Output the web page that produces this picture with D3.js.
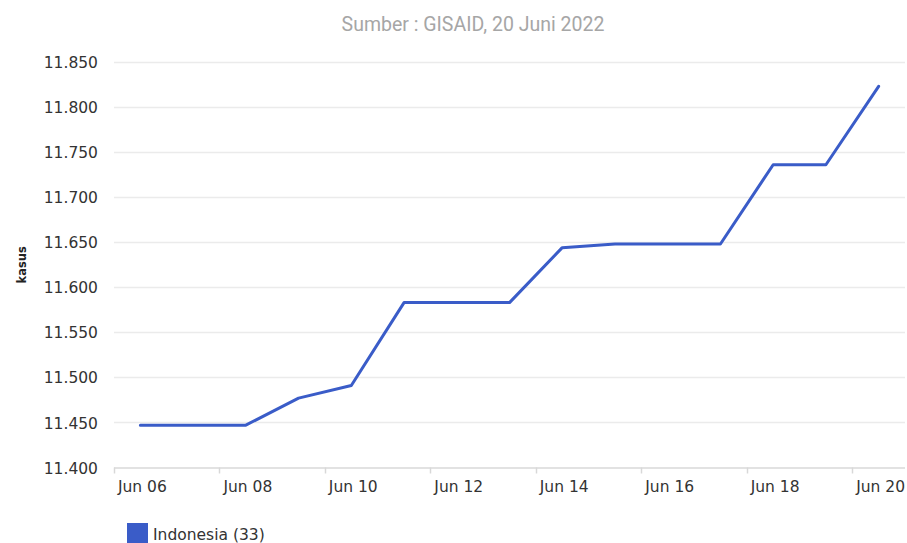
<!DOCTYPE html>
<html>
<head>
<meta charset="utf-8">
<script src="https://cdn.jsdelivr.net/npm/d3@7"></script>
<style>
  html, body { margin: 0; padding: 0; background: #fff; }
  svg { display: block; }
</style>
</head>
<body>
<svg id="chart" width="907" height="543"></svg>
<script>
const titleText = "Sumber : GISAID, 20 Juni 2022";
const yAxisTitle = "kasus";
const seriesName = "Indonesia (33)";
const categories = ["Jun 06","Jun 07","Jun 08","Jun 09","Jun 10","Jun 11","Jun 12","Jun 13","Jun 14","Jun 15","Jun 16","Jun 17","Jun 18","Jun 19","Jun 20"];
const values = [11447, 11447, 11447, 11477, 11491, 11583, 11583, 11583, 11644, 11648, 11648, 11648, 11736, 11736, 11823];
const yTicks = [11400, 11450, 11500, 11550, 11600, 11650, 11700, 11750, 11800, 11850];
const lineColor = "#3a5cc8";

const svg = d3.select("#chart");
const plot = { left: 114, right: 905, top: 62, bottom: 467.5 };

const x = d3.scaleBand().domain(categories).range([plot.left, plot.right]).padding(0);
const y = d3.scaleLinear().domain([11400, 11850]).range([plot.bottom, plot.top]);

const fmt = v => d3.format(",")(v).replace(/,/g, ".");

// title
svg.append("text")
  .attr("x", 473).attr("y", 31)
  .attr("text-anchor", "middle")
  .attr("font-family", "Roboto, sans-serif")
  .attr("font-size", 19.5)
  .attr("fill", "#a6a6a6")
  .text(titleText);

// gridlines
svg.append("g")
  .selectAll("line")
  .data(yTicks.filter(t => t !== 11400))
  .join("line")
  .attr("x1", plot.left).attr("x2", plot.right)
  .attr("y1", d => Math.round(y(d)) + 0.5).attr("y2", d => Math.round(y(d)) + 0.5)
  .attr("stroke", "#ebebeb").attr("stroke-width", 1.5);

// y axis labels
const yAxis = d3.axisLeft(y).tickValues(yTicks).tickFormat(fmt).tickSize(0).tickPadding(0);
const gy = svg.append("g").attr("transform", `translate(${plot.left - 16},0)`).call(yAxis);
gy.select(".domain").remove();
gy.selectAll("text")
  .attr("font-family", "'DejaVu Sans', Verdana, sans-serif")
  .attr("font-size", 15.5)
  .attr("fill", "#333")
  .attr("dy", "0.36em");

// y axis title
svg.append("text")
  .attr("transform", `translate(26, ${(plot.top + plot.bottom) / 2}) rotate(-90)`)
  .attr("text-anchor", "middle")
  .attr("font-family", "'DejaVu Sans', Verdana, sans-serif")
  .attr("font-weight", "bold")
  .attr("font-size", 11.5)
  .attr("fill", "#222")
  .text(yAxisTitle);

// x axis
const gx = svg.append("g").attr("transform", `translate(0,${plot.bottom})`);
gx.append("line")
  .attr("x1", plot.left).attr("x2", plot.right)
  .attr("y1", 0.5).attr("y2", 0.5)
  .attr("stroke", "#d8d8d8").attr("stroke-width", 1.5);
const tickCats = categories.filter((c, i) => i % 2 === 0);
gx.selectAll("line.tick")
  .data(tickCats)
  .join("line")
  .attr("class", "tick")
  .attr("x1", d => Math.round(x(d)) + 0.5).attr("x2", d => Math.round(x(d)) + 0.5)
  .attr("y1", 0).attr("y2", 6)
  .attr("stroke", "#d8d8d8").attr("stroke-width", 1.5);
gx.selectAll("text")
  .data(tickCats)
  .join("text")
  .attr("x", d => x(d) + x.bandwidth() / 2 + 2)
  .attr("y", 24)
  .attr("text-anchor", "middle")
  .attr("font-family", "'DejaVu Sans', Verdana, sans-serif")
  .attr("font-size", 15.5)
  .attr("fill", "#333")
  .text(d => d);

// line
const line = d3.line()
  .x((d, i) => x(categories[i]) + x.bandwidth() / 2)
  .y(d => y(d));
svg.append("path")
  .datum(values)
  .attr("d", line)
  .attr("fill", "none")
  .attr("stroke", lineColor)
  .attr("stroke-width", 3)
  .attr("stroke-linejoin", "round")
  .attr("stroke-linecap", "round");

// legend
svg.append("rect")
  .attr("x", 127).attr("y", 523)
  .attr("width", 21).attr("height", 21)
  .attr("fill", lineColor);
svg.append("text")
  .attr("x", 153).attr("y", 540)
  .attr("font-family", "'DejaVu Sans', Verdana, sans-serif")
  .attr("font-size", 15.5)
  .attr("fill", "#333")
  .text(seriesName);
</script>
</body>
</html>
